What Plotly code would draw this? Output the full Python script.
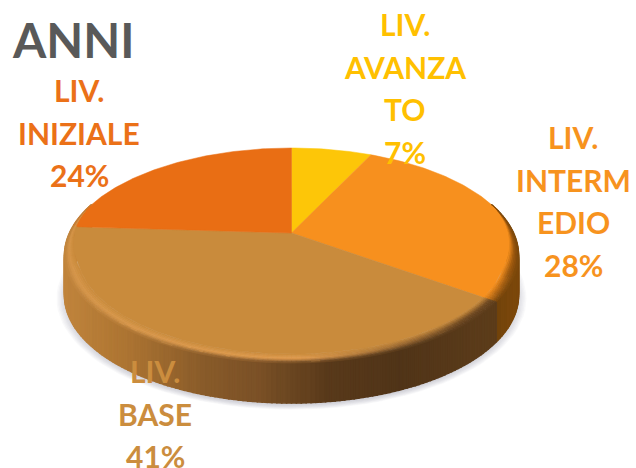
import math
import plotly.graph_objects as go

# ---- data ----
title_text = "ANNI"
categories = ["LIV. AVANZATO", "LIV. INTERMEDIO", "LIV. BASE", "LIV. INIZIALE"]
values = [7, 28, 41, 24]
slice_colors = ["#FDC608", "#F7901E", "#C98B3C", "#E96E14"]
label_colors = ["#FFC000", "#F7931E", "#CB8D3E", "#EB7118"]
label_lines = [["LIV.", "AVANZA", "TO", "7%"],
               ["LIV.", "INTERM", "EDIO", "28%"],
               ["LIV.", "BASE", "41%"],
               ["LIV.", "INIZIALE", "24%"]]
label_centers = [405, 573, 155, 79]
label_tops = [24, 137, 371, 90]
label_step = 42.7

# ---- projection of the tilted disc onto the pixel plane ----
CX, CY, A, B, K, DEPTH = 291.5, 233, 222, 102.8, 0.209, 40
W, H = 636, 468


def project(theta, r=1.0):
    u, v = r * math.sin(theta), r * math.cos(theta)
    w = 1 + K * v
    return CX + A * u / w, CY - B * v / w


def hex_rgb(h):
    return tuple(int(h[i:i + 2], 16) for i in (1, 3, 5))


def mix(a, b, t):
    return tuple(a[i] + (b[i] - a[i]) * t for i in range(3))


def ramp(stops, x):
    if x <= stops[0][0]:
        return stops[0][1]
    for (x0, c0), (x1, c1) in zip(stops, stops[1:]):
        if x <= x1:
            return mix(c0, c1, (x - x0) / (x1 - x0))
    return stops[-1][1]


brown_side = [(65, (192, 132, 60)), (130, (172, 116, 50)), (200, (138, 92, 42)),
              (260, (122, 80, 38)), (330, (88, 57, 26)), (400, (80, 52, 24)), (490, (92, 60, 26))]
orange_side = [(490, (112, 66, 12)), (520, (125, 72, 10))]
highlight = [(65, (214, 150, 74)), (300, (226, 156, 78)), (380, (170, 116, 55)), (470, (110, 72, 32))]
orange_hl = [(490, (190, 110, 22)), (520, (150, 85, 14))]

total = sum(values)
edges = [0.0]
for val in values:
    edges.append(edges[-1] + val / total * 2 * math.pi)


def slice_index(theta):
    for i in range(len(values)):
        if edges[i] <= theta < edges[i + 1]:
            return i
    return len(values) - 1


buckets = {}


def add_poly(order, color, xs, ys, sort_key=0.0):
    key = (order, "rgb(%d,%d,%d)" % tuple(round(c) for c in color))
    entry = buckets.setdefault(key, ([], [], sort_key))
    entry[0].extend(xs + [xs[0], None])
    entry[1].extend(ys + [ys[0], None])


def inner_radius(theta):
    t = max(0.0, min(1.0, (0.25 - math.cos(theta)) / 0.6))
    return 1 - 0.055 * t


STEP = math.radians(1)
N = int(2 * math.pi / STEP)
for n in range(N):
    t0, t1 = n * STEP, (n + 1) * STEP
    mid = (t0 + t1) / 2
    if math.cos(mid) > 0.3:
        continue
    idx = slice_index(mid)
    x0, y0 = project(t0)
    x1, y1 = project(t1)
    xm = round((x0 + x1) / 2 / 6) * 6
    is_brown = idx != 1
    side = ramp(brown_side, xm) if is_brown else ramp(orange_side, xm)
    hl = ramp(highlight, xm) if is_brown else ramp(orange_hl, xm)
    if idx == 3:
        side = mix(side, (200, 100, 30), 0.3)
    add_poly(1, side, [x0, x1, x1, x0], [y0, y1, y1 + DEPTH, y0 + DEPTH], sort_key=xm)
    # bevel between the face and the wall
    face = hex_rgb(slice_colors[idx])
    layers = 7
    ri0, ri1 = inner_radius(t0), inner_radius(t1)
    for j in range(layers):
        f0, f1 = j / layers, (j + 1) / layers
        fm = (f0 + f1) / 2
        col = mix(face, hl, fm / 0.55) if fm < 0.55 else mix(hl, side, (fm - 0.55) / 0.45)
        a0 = project(t0, ri0 + (1 - ri0) * f0)
        a1 = project(t1, ri1 + (1 - ri1) * f0)
        b1 = project(t1, ri1 + (1 - ri1) * f1)
        b0 = project(t0, ri0 + (1 - ri0) * f1)
        add_poly(3, col, [a0[0], a1[0], b1[0], b0[0]], [a0[1], a1[1], b1[1], b0[1]], sort_key=j)

fig = go.Figure()

# soft ground shadow
theta_all = [math.radians(d) for d in range(0, 361, 3)]
for s in range(8):
    scale = 1.035 - s * 0.006
    pts = [project(t) for t in theta_all]
    fig.add_trace(go.Scatter(
        x=[CX + (p[0] - CX) * scale for p in pts],
        y=[255 + (p[1] - 255) * scale + DEPTH + 3 for p in pts],
        mode="lines", line=dict(width=0), fill="toself",
        fillcolor="rgba(120,120,150,0.045)", hoverinfo="skip", showlegend=False))


def add_buckets(order, width):
    items = [(k, v) for k, v in buckets.items() if k[0] == order]
    items.sort(key=lambda kv: kv[1][2])
    for (o, color), (bx, by, _) in items:
        fig.add_trace(go.Scatter(x=bx, y=by, mode="lines", fill="toself", fillcolor=color,
                                 line=dict(color=color, width=width, simplify=False),
                                 hoverinfo="skip", showlegend=False))


add_buckets(1, 1.6)

# top face, one wedge per value
for i, name in enumerate(categories):
    n = max(2, int((edges[i + 1] - edges[i]) / STEP))
    thetas = [edges[i] + (edges[i + 1] - edges[i]) * k / n for k in range(n + 1)]
    pts = [project(t, inner_radius(t)) for t in thetas]
    xs = [CX] + [p[0] for p in pts] + [CX]
    ys = [CY] + [p[1] for p in pts] + [CY]
    fig.add_trace(go.Scatter(x=xs, y=ys, mode="lines", fill="toself", name=name,
                             fillcolor=slice_colors[i],
                             line=dict(color=slice_colors[i], width=0.5),
                             text=f"{name}: {values[i]}%", hoverinfo="text", showlegend=False))

add_buckets(3, 0.7)

annotations = [dict(x=10, y=39, xref="x", yref="y", xanchor="left", yanchor="middle", text=f"<b>{title_text}</b>",
                    showarrow=False, font=dict(family="Lato", size=48, color="#595959"))]
for lines, cx, top, color in zip(label_lines, label_centers, label_tops, label_colors):
    for k, line in enumerate(lines):
        annotations.append(dict(x=cx, y=top + k * label_step, xref="x", yref="y", xanchor="center", yanchor="middle",
                                text=f"<b>{line}</b>", showarrow=False,
                                font=dict(family="Lato", size=30, color=color)))

fig.update_layout(width=W, height=H, margin=dict(l=0, r=0, t=0, b=0),
                  paper_bgcolor="white", plot_bgcolor="white", showlegend=False,
                  xaxis=dict(range=[0, W], visible=False, fixedrange=True),
                  yaxis=dict(range=[H, 0], visible=False, fixedrange=True),
                  annotations=annotations)
fig.write_html("out.html", config=dict(displayModeBar=False),
               post_script="document.body.style.margin='0';document.documentElement.style.overflow='hidden';")
